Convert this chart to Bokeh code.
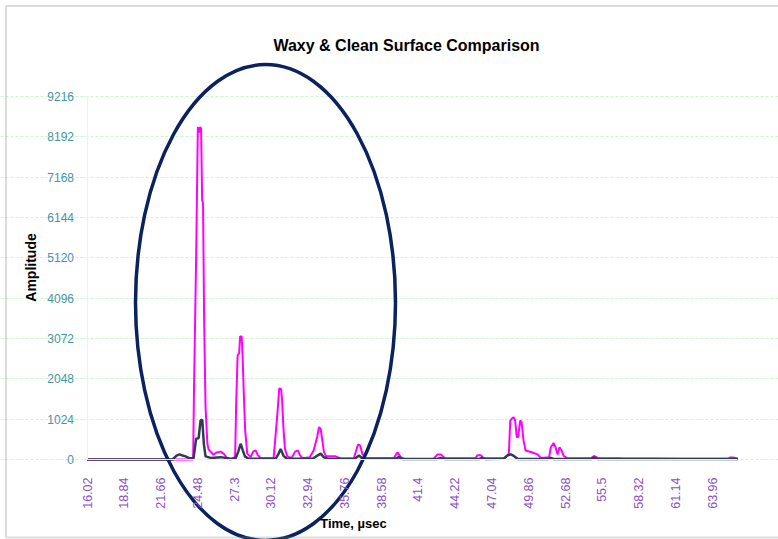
import math
from bokeh.plotting import figure
from bokeh.models import Range1d, FixedTicker, Label, BoxAnnotation
from bokeh.embed import file_html
from bokeh.resources import INLINE

# ---------------- data ----------------
tick_labels = ["16.02", "18.84", "21.66", "24.48", "27.3", "30.12", "32.94",
               "35.76", "38.58", "41.4", "44.22", "47.04", "49.86", "52.68",
               "55.5", "58.32", "61.14", "63.96"]
y_ticks = [0, 1024, 2048, 3072, 4096, 5120, 6144, 7168, 8192, 9216]

waxy_t = [16.02, 24.16, 24.23, 24.39, 24.52, 24.62, 24.69, 24.77, 24.85, 24.92,
          25.00, 25.11, 25.25, 25.35, 25.50, 25.73, 25.96, 26.27, 26.50, 26.73,
          26.96, 27.19, 27.38, 27.46, 27.57, 27.69, 27.76, 27.88, 27.95, 28.05,
          28.15, 28.31, 28.57, 28.76, 28.95, 29.11, 29.34, 30.33, 30.62, 30.76,
          30.91, 30.99, 31.08, 31.20, 31.38, 31.71, 31.98, 32.18, 32.37, 32.56,
          33.10, 33.40, 33.67, 33.81, 33.94, 34.07, 34.19, 34.36, 35.09, 35.48,
          36.47, 36.63, 36.80, 36.96, 37.14, 37.39, 39.54, 39.83, 40.08, 40.39,
          42.61, 42.90, 43.15, 43.46, 45.80, 45.97, 46.22, 46.45, 47.90, 48.14,
          48.37, 48.48, 48.60, 48.73, 48.85, 48.98, 49.08, 49.24, 49.34, 49.50,
          49.65, 50.06, 50.57, 50.82, 51.46, 51.59, 51.80, 51.95, 52.11, 52.26,
          52.41, 52.57, 52.82, 54.66, 54.89, 55.20, 56.96, 61.57, 65.20, 65.33,
          65.56, 65.94]
waxy_amp = [0, 0, 1880, 5140, 8440, 8300, 8440, 8400, 6580, 6500,
            3610, 1330, 400, 250, 200, 120, 180, 200, 150, 50,
            0, 20, 80, 1420, 2640, 2700, 3120, 3120, 2640, 1620,
            740, 150, 60, 200, 230, 120, 30, 30, 1160, 1800,
            1790, 1450, 820, 270, 80, 40, 200, 230, 100, 30,
            60, 230, 570, 820, 780, 480, 190, 80, 80, 20,
            20, 190, 380, 360, 140, 30, 30, 180, 60, 10,
            20, 130, 130, 30, 30, 110, 110, 30, 30, 60,
            150, 990, 1040, 1075, 990, 570, 570, 990, 960, 480,
            230, 190, 130, 40, 60, 310, 420, 310, 130, 310,
            230, 90, 40, 30, 90, 40, 30, 20, 20, 50,
            50, 20]

clean_t = [16.02, 22.58, 22.89, 23.12, 23.35, 23.58, 23.89, 24.19, 24.39, 24.58,
           24.73, 24.86, 24.98, 25.11, 25.50, 26.27, 27.03, 27.42, 27.62, 27.80,
           27.98, 28.13, 28.41, 30.49, 30.72, 30.87, 31.08, 31.33, 33.33, 33.69,
           33.94, 34.17, 34.48, 36.55, 36.88, 37.16, 39.70, 39.93, 40.23, 42.84,
           43.15, 43.46, 46.07, 46.30, 46.60, 47.98, 48.29, 48.52, 48.75, 49.06,
           51.36, 51.59, 51.82, 54.66, 54.89, 55.20, 65.94]
clean_amp = [0, 0, 100, 130, 100, 80, 30, 30, 530, 540,
             990, 1010, 400, 80, 40, 60, 20, 30, 200, 400,
             220, 80, 20, 20, 150, 270, 100, 20, 20, 100,
             150, 60, 20, 20, 100, 20, 20, 60, 10, 10,
             40, 10, 10, 40, 10, 20, 110, 130, 90, 10,
             10, 40, 10, 10, 50, 10, 10]

# ---------------- layout (canvas pixels) ----------------
W, H = 778, 539
X0_PX, XS = 86.5, 13.04          # canvas x of t=16.02, px per usec
Y0_PX, YS = 459.0, 363.0 / 9216  # canvas y of amplitude 0, px per unit
T0 = float(tick_labels[0])
T_END = 65.94


def dx(px):
    return T0 + (px - X0_PX) / XS


def dy(py):
    return (Y0_PX - py) / YS


p = figure(width=W, height=H, output_backend="svg", toolbar_location=None,
           x_range=Range1d(dx(0), dx(W)), y_range=Range1d(dy(H), dy(0)),
           min_border=0, min_border_left=0, min_border_right=0,
           min_border_top=0, min_border_bottom=0)
p.background_fill_color = "white"
p.border_fill_color = "white"
p.outline_line_color = None

FONT = "Liberation Sans"

# chart-area border
p.add_layout(BoxAnnotation(left=dx(5.5), right=dx(800), top=dy(5.5), bottom=dy(537),
                           fill_color=None, line_color="#8C8C8C", line_width=2))

# grid
p.xgrid.visible = False
p.ygrid.ticker = FixedTicker(ticks=y_ticks)
p.ygrid.bounds = (T0, T_END)
p.ygrid.grid_line_color = "#C9F7C9"
p.ygrid.grid_line_dash = "3 2"
p.ygrid.grid_line_width = 1

# y axis
yax = p.yaxis[0]
yax.fixed_location = T0
yax.bounds = (0, 9216)
yax.ticker = FixedTicker(ticks=y_ticks)
yax.axis_line_color = "#CCFFFF"
yax.major_tick_line_color = "#CCFFEE"
yax.major_tick_out = 4
yax.major_tick_in = 0
yax.minor_tick_line_color = None
yax.major_label_text_color = "#4793A8"
yax.major_label_text_font = FONT
yax.major_label_text_font_size = "12px"
yax.major_label_standoff = 9

# x axis
x_ticks = [float(s) for s in tick_labels]
xax = p.xaxis[0]
xax.fixed_location = 0
xax.bounds = (T0, T_END)
xax.ticker = FixedTicker(ticks=x_ticks)
xax.major_label_overrides = {t: s for t, s in zip(x_ticks, tick_labels)}
xax.major_label_orientation = math.pi / 2
xax.axis_line_color = "#CCFFCC"
xax.major_tick_line_color = None
xax.minor_tick_line_color = None
xax.major_label_text_color = "#8A4FC6"
xax.major_label_text_font = FONT
xax.major_label_text_font_size = "12.5px"
xax.major_label_standoff = 12

# series
p.line(waxy_t, waxy_amp, line_color="#FF00FF", line_width=2)
p.line(clean_t, clean_amp, line_color="#2E3D4F", line_width=2.5)

# highlight ellipse
p.ellipse(x=[dx(265)], y=[dy(302)], width=[260 / XS], height=[476 / YS],
          fill_color=None, line_color="#0A225E", line_width=3.5)

# texts
p.add_layout(Label(x=dx(406), y=dy(45), text="Waxy & Clean Surface Comparison",
                   text_font=FONT, text_font_style="bold", text_font_size="16px",
                   text_align="center", text_baseline="middle", text_color="black"))
p.add_layout(Label(x=dx(30), y=dy(267), text="Amplitude", angle=math.pi / 2,
                   text_font=FONT, text_font_style="bold", text_font_size="14px",
                   text_align="center", text_baseline="middle", text_color="black"))
p.add_layout(Label(x=dx(353), y=dy(523), text="Time, \u00b5sec",
                   text_font=FONT, text_font_style="bold", text_font_size="13px",
                   text_align="center", text_baseline="middle", text_color="black"))

open("out.html", "w").write(file_html(p, INLINE))
